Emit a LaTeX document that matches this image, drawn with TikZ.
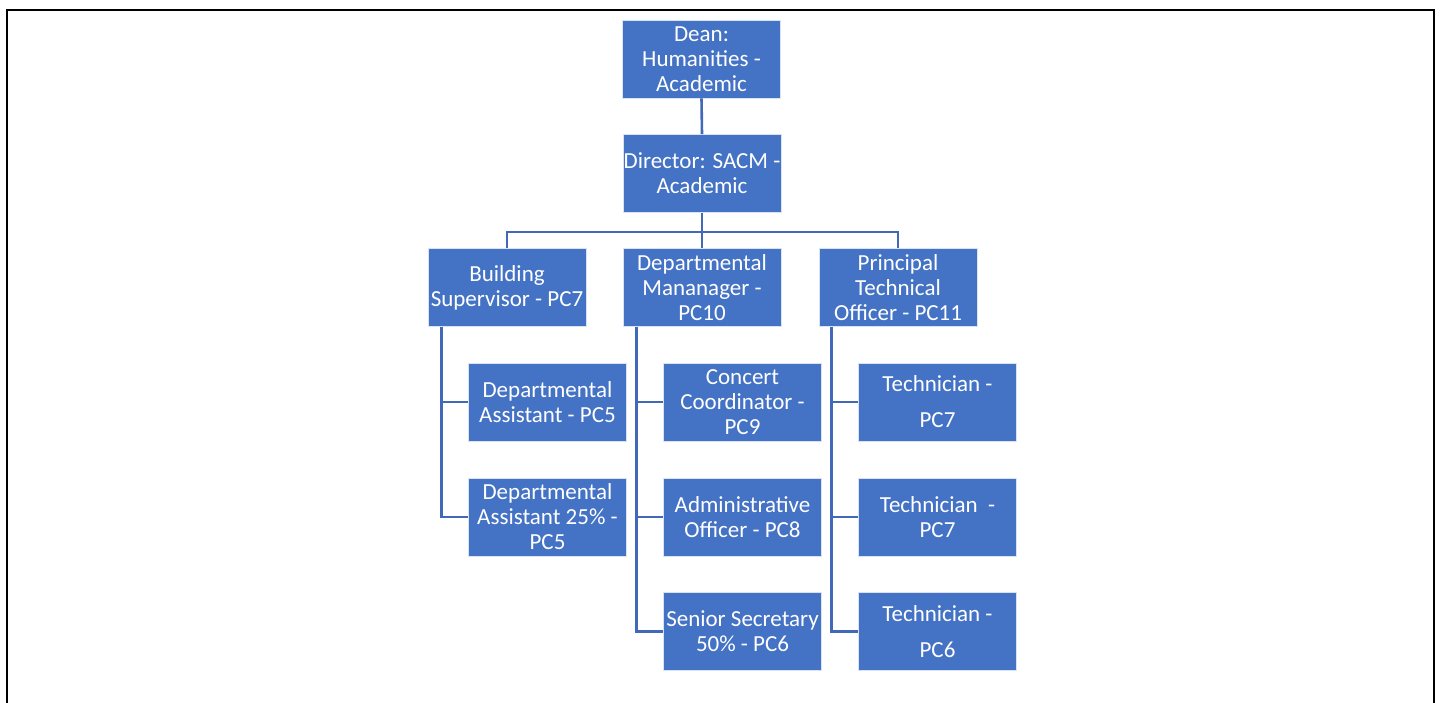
\documentclass[tikz,border=0pt]{standalone}
\usepackage{fontspec}
\setmainfont{Carlito}
\definecolor{boxblue}{HTML}{4472C4}
\definecolor{lineblue}{HTML}{4169B8}
\begin{document}
\begin{tikzpicture}[x=1pt,y=-1pt,
  orgbox/.style={rectangle, fill=boxblue, draw=white!80!boxblue, line width=0.8pt,
    minimum width=158pt, minimum height=78pt, inner sep=0pt,
    align=center, text=white, font=\fontsize{23}{25}\selectfont},
  link/.style={draw=lineblue, line width=2.6pt}]
\useasboundingbox (0,0) rectangle (1441,702);
\draw[line width=2pt, black] (7,710) -- (7,10) -- (1434,10) -- (1434,710);

\node[orgbox] (dean) at (701.5,59) {Dean:\\Humanities -\\Academic};
\node[orgbox] (director) at (702,173.5) {Director: SACM -\\Academic};
\node[orgbox] (building) at (507,287.5) {Building\\Supervisor - PC7};
\node[orgbox] (dept) at (702,287.5) {Departmental\\Mananager -\\PC10};
\node[orgbox] (principal) at (898,287.5) {Principal\\Technical\\Officer - PC11};

\node[orgbox] (da1) at (547.5,402) {Departmental\\Assistant - PC5};
\node[orgbox] (da2) at (547.5,517) {Departmental\\Assistant 25\% -\\PC5};

\node[orgbox] (concert) at (742.5,402) {Concert\\Coordinator -\\PC9};
\node[orgbox] (admin) at (742.5,517) {Administrative\\Officer - PC8};
\node[orgbox] (senior) at (742.5,631.5) {Senior Secretary\\50\% - PC6};

\node[orgbox] (tech1) at (937.5,402) {Technician -\\[11pt]PC7};
\node[orgbox] (tech2) at (937.5,517) {Technician\ \ -\\PC7};
\node[orgbox] (tech3) at (937.5,631.5) {Technician -\\[11pt]PC6};

\draw[link] (dean.south) -- (director.north);
\draw[link] (director.south) -- ++(0,19) -| (building.north);
\draw[link] (director.south) -- ++(0,19) -| (principal.north);
\draw[link] (director.south) -- (dept.north);

\draw[link] ([xshift=14pt]building.south west) |- (da1.west);
\draw[link] ([xshift=14pt]building.south west) |- (da2.west);

\draw[link] ([xshift=14pt]dept.south west) |- (concert.west);
\draw[link] ([xshift=14pt]dept.south west) |- (admin.west);
\draw[link] ([xshift=14pt]dept.south west) |- (senior.west);

\draw[link] ([xshift=13pt]principal.south west) |- (tech1.west);
\draw[link] ([xshift=13pt]principal.south west) |- (tech2.west);
\draw[link] ([xshift=13pt]principal.south west) |- (tech3.west);
\end{tikzpicture}
\end{document}
